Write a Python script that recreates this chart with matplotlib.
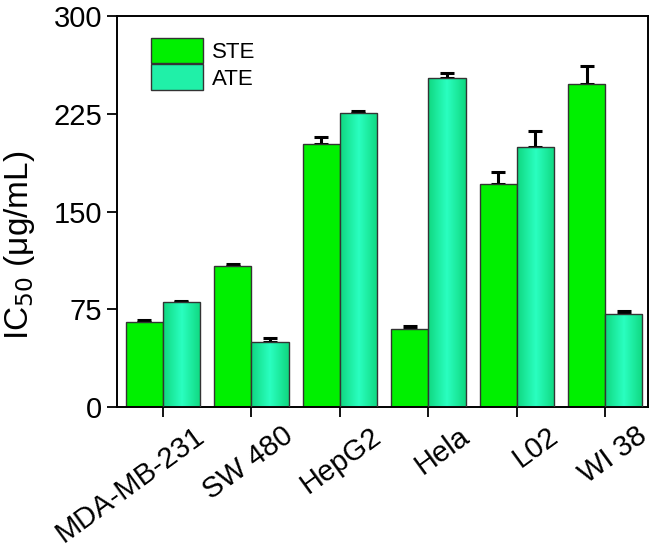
import numpy as np
import matplotlib
matplotlib.use('Agg')
import matplotlib.pyplot as plt
from matplotlib.colors import LinearSegmentedColormap
from matplotlib.patches import Patch
from matplotlib.transforms import ScaledTranslation

plt.rcParams['font.family'] = ['Liberation Sans', 'DejaVu Sans']

cells = ['MDA-MB-231', 'SW 480', 'HepG2', 'Hela', 'L02', 'WI 38']
ste = [65, 108.5, 201.5, 60, 171.5, 248]
ste_err = [1.5, 1, 6, 2, 8.5, 13.5]
ate = [80.5, 50, 226, 252.5, 199.5, 71]
ate_err = [1, 3, 1, 4, 12, 2.5]

fig = plt.figure(figsize=(6.53, 5.56), dpi=100)
ax = fig.add_axes([0.179, 0.268, 0.813, 0.703])

x = np.arange(len(cells))
w = 0.42
ste_col = '#00f000'
err_kw = dict(capsize=5, elinewidth=2.2, capthick=2.2, ecolor='black')

b1 = ax.bar(x - w/2, ste, w, color=ste_col, edgecolor='#333333', linewidth=1, zorder=2)
ax.errorbar(x - w/2, ste, yerr=[np.zeros(len(ste)), ste_err], fmt='none', zorder=1, **err_kw)
b2 = ax.bar(x + w/2, ate, w, color='none', edgecolor='#333333', linewidth=1, zorder=3)
ax.errorbar(x + w/2, ate, yerr=[np.zeros(len(ate)), ate_err], fmt='none', zorder=1, **err_kw)

# horizontal gradient fill for ATE bars
cmap = LinearSegmentedColormap.from_list('ate', ['#10d880', '#2affc0', '#10d880'])
grad = np.linspace(0, 1, 100).reshape(1, -1)
for bar in b2:
    bx, by = bar.get_x(), bar.get_y()
    bw, bh = bar.get_width(), bar.get_height()
    im = ax.imshow(grad, cmap=cmap, aspect='auto', extent=[bx, bx + bw, by, by + bh], zorder=2)
    im.set_clip_path(bar)

ax.set_xlim(-0.52, 5.48)
ax.set_ylim(0, 300)
ax.set_yticks([0, 75, 150, 225, 300])
ax.set_xticks(x)
ax.set_xticklabels(cells, rotation=36, ha='right', rotation_mode='anchor')
ax.tick_params(axis='both', labelsize=21, length=7, width=1.3, direction='out')
ax.tick_params(axis='x', labelsize=21)
shift = ScaledTranslation(0.3, 0.0, fig.dpi_scale_trans)
for lab in ax.get_xticklabels():
    lab.set_transform(lab.get_transform() + shift)
ax.set_ylabel('IC$_{50}$ (μg/mL)', fontsize=24)
ax.yaxis.set_label_coords(-0.15, 0.414)
for s in ax.spines.values():
    s.set_linewidth(1.4)

handles = [Patch(facecolor=ste_col, edgecolor='#333333', label='STE'),
           Patch(facecolor='#20f0a8', edgecolor='#333333', label='ATE')]
ax.legend(handles=handles, loc='upper left', bbox_to_anchor=(0.035, 0.985), frameon=False,
          fontsize=16, handlelength=2.35, handleheight=1.4, labelspacing=0.05, handletextpad=0.4,
          borderaxespad=0.3)

fig.savefig('out.png', dpi=100)
